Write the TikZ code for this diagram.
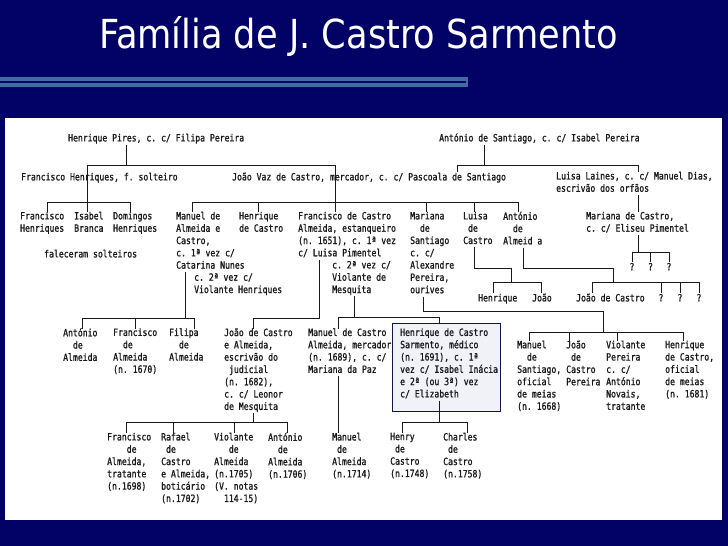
\documentclass[tikz,border=0pt]{standalone}
\usepackage{fontspec}
\newfontfamily\twfont[FakeStretch=0.812,FakeBold=1.1]{DejaVu Sans Mono}
\newfontfamily\ttlfont[FakeStretch=0.88]{DejaVu Sans}
\newlength\cw
\setlength\cw{4.889pt}
\newcommand\pd[1]{\hspace*{#1\cw}}
\definecolor{navybg}{RGB}{2,2,102}
\definecolor{barblue}{RGB}{62,108,165}
\definecolor{ink}{RGB}{25,25,25}
\definecolor{boxfill}{RGB}{240,242,248}
\definecolor{boxline}{RGB}{20,20,70}
\begin{document}
\frenchspacing
\begin{tikzpicture}[x=1pt,y=-1pt,
  tx/.style={anchor=north west,inner sep=0pt,align=left,text=ink,
    font=\twfont\fontsize{10}{12.3}\selectfont,execute at begin node=\strut},
  qm/.style={tx,anchor=north},
  ln/.style={draw=ink,line width=0.9pt,line cap=rect},
  boxst/.style={draw=boxline,fill=boxfill,line width=0.8pt,inner sep=0pt,
    anchor=north west,minimum width=108pt,minimum height=88pt}]
\useasboundingbox (0,0) rectangle (728,546);
\fill[navybg] (0,0) rectangle (728,546);
% title and bar
\node[anchor=base,inner sep=0pt,text=white,font=\ttlfont\fontsize{40}{48}\selectfont] (title) at (358.5,48) {Família de J. Castro Sarmento};
\fill[barblue] (0,77) rectangle (468,87);
\draw[navybg,line width=1.4pt] (0,82) -- (466,82);
% panel
\fill[white] (5,118) rectangle (722,520);
% highlighted box
\node[boxst] (box) at (392,323) {};

% ---------- text ----------
\node[tx] (hp) at (68,132.6) {Henrique Pires, c. c/ Filipa Pereira};
\node[tx] (as) at (439,132.6) {António de Santiago, c. c/ Isabel Pereira};
\node[tx] (fh) at (21,171.6) {Francisco Henriques, f. solteiro};
\node[tx] (jv) at (232,171.6) {João Vaz de Castro, mercador, c. c/ Pascoala de Santiago};
\node[tx] (ll) at (556,171.6) {Luisa Laines, c. c/ Manuel Dias,\\escrivão dos orfãos};

\node[tx] (fh2) at (20,211.6) {Francisco\\Henriques};
\node[tx] (ib) at (74,211.6) {Isabel\\Branca};
\node[tx] (dh) at (113,211.6) {Domingos\\Henriques};
\node[tx] (fs) at (44,248.6) {faleceram solteiros};
\node[tx] (ma) at (176,211.6) {Manuel de\\Almeida e\\Castro,\\c. 1ª vez c/\\Catarina Nunes};
\node[tx] (ma2) at (194,273.1) {c. 2ª vez c/\\Violante Henriques};
\node[tx] (hc) at (239,211.6) {Henrique\\de Castro};
\node[tx] (fc) at (298,211.6) {Francisco de Castro\\Almeida, estanqueiro\\(n. 1651), c. 1ª vez\\c/ Luisa Pimentel};
\node[tx] (fc2) at (332,260.8) {c. 2ª vez c/\\Violante de\\Mesquita};
\node[tx] (msa) at (410,211.6) {Mariana\\\pd{2}de\\Santiago\\c. c/\\Alexandre\\Pereira,\\ourives};
\node[tx] (lc) at (463,211.6) {Luisa\\\pd{1}de\\Castro};
\node[tx] (aa) at (503,211.6) {António\\\pd{2}de\\Almeid a};
\node[tx] (mc) at (586,211.6) {Mariana de Castro,\\c. c/ Eliseu Pimentel};
\node[qm] (q1) at (632,261.6) {?};
\node[qm] (q2) at (650.5,261.6) {?};
\node[qm] (q3) at (669,261.6) {?};

\node[tx] (hen) at (478,292.6) {Henrique};
\node[tx] (jo) at (532,292.6) {João};
\node[tx] (jdc) at (576,292.6) {João de Castro};
\node[qm] (q4) at (661,292.6) {?};
\node[qm] (q5) at (680,292.6) {?};
\node[qm] (q6) at (699,292.6) {?};

\node[tx] (ada) at (63,328.1) {António\\\pd{2}de\\Almeida};
\node[tx] (fda) at (113,328.1) {Francisco\\\pd{2}de\\Almeida\\(n. 1670)};
\node[tx] (fia) at (169,328.1) {Filipa\\\pd{2}de\\Almeida};
\node[tx] (jca) at (224,328.1) {João de Castro\\e Almeida,\\escrivão do\\\pd{1}judicial\\(n. 1682),\\c. c/ Leonor\\de Mesquita};
\node[tx] (mca) at (308,328.1) {Manuel de Castro\\Almeida, mercador\\(n. 1689), c. c/\\Mariana da Paz};
\node[tx] (hcs) at (400,328.1) {Henrique de Castro\\Sarmento, médico\\(n. 1691), c. 1ª\\vez c/ Isabel Inácia\\e 2ª (ou 3ª) vez\\c/ Elizabeth};
\node[tx] (mds) at (517,340.4) {Manuel\\\pd{2}de\\Santiago,\\oficial\\de meias\\(n. 1668)};
\node[tx] (jcp) at (566,340.4) {João\\\pd{1}de\\Castro\\Pereira};
\node[tx] (vp) at (606,340.4) {Violante\\Pereira\\c. c/\\António\\Novais,\\tratante};
\node[tx] (hdc) at (665,340.4) {Henrique\\de Castro,\\oficial\\de meias\\(n. 1681)};

\node[tx] (fa) at (107,432.6) {Francisco\\\pd{4}de\\Almeida,\\tratante\\(n.1698)};
\node[tx] (rca) at (161,432.6) {Rafael\\\pd{1}de\\Castro\\e Almeida,\\boticário\\(n.1702)};
\node[tx] (va) at (214,432.6) {Violante\\\pd{3}de\\Almeida\\(n.1705)\\(V. notas\\\pd{2}114-15)};
\node[tx] (ana) at (268,432.6) {António\\\pd{2}de\\Almeida\\(n.1706)};
\node[tx] (mna) at (332,432.6) {Manuel\\\pd{1}de\\Almeida\\(n.1714)};
\node[tx] (hy) at (390,432.6) {Henry\\\pd{1}de\\Castro\\(n.1748)};
\node[tx] (ch) at (443,432.6) {Charles\\\pd{1}de\\Castro\\(n.1758)};

% ---------- connectors ----------
% Henrique Pires
\draw[ln] (126,0 |- hp.south) -- (126,165);
\draw[ln] (87,165) -- (335,165);
\draw[ln] (87,165) -- (87,0 |- ib.north);
\draw[ln] (335,165) -- (335,0 |- fc.north);
% Francisco Henriques
\draw[ln] (47,202) -- (130,202);
\draw[ln] (47,202) -- (47,0 |- fh2.north);
\draw[ln] (130,202) -- (130,0 |- dh.north);
% Antonio de Santiago
\draw[ln] (484,0 |- as.south) -- (484,165);
\draw[ln] (457,165) -- (638,165);
\draw[ln] (457,165) -- (457,0 |- jv.north);
\draw[ln] (638,165) -- (638,0 |- ll.north);
\draw[ln] (638,0 |- ll.south) -- (638,0 |- mc.north);
% Joao Vaz children
\draw[ln] (192,202) -- (518,202);
\draw[ln] (192,202) -- (192,0 |- ma.north);
\draw[ln] (258,202) -- (258,0 |- hc.north);
\draw[ln] (426,202) -- (426,0 |- msa.north);
\draw[ln] (474,202) -- (474,0 |- lc.north);
\draw[ln] (518,202) -- (518,0 |- aa.north);
% Mariana de Castro
\draw[ln] (638,0 |- mc.south) -- (638,252);
\draw[ln] (632,252) -- (669,252);
\draw[ln] (632,252) -- (q1.north);
\draw[ln] (650.5,252) -- (q2.north);
\draw[ln] (669,252) -- (q3.north);
% Luisa de Castro
\draw[ln] (474,0 |- lc.south) |- (511,268) -- (511,282);
\draw[ln] (493,282) -- (541,282);
\draw[ln] (493,282) -- (493,0 |- hen.north);
\draw[ln] (541,282) -- (541,0 |- jo.north);
% Antonio de Almeida
\draw[ln] (523,0 |- aa.south) |- (613,268) -- (613,282);
\draw[ln] (592,282) -- (699,282);
\draw[ln] (592,282) -- (592,0 |- jdc.north);
\draw[ln] (661,282) -- (q4.north);
\draw[ln] (680,282) -- (q5.north);
\draw[ln] (699,282) -- (q6.north);
% Manuel de Almeida e Castro
\draw[ln] (185,0 |- ma.south) -- (185,318);
\draw[ln] (82,318) -- (194,318);
\draw[ln] (82,318) -- (82,0 |- ada.north);
\draw[ln] (135,318) -- (135,0 |- fda.north);
\draw[ln] (194,318) -- (194,0 |- fia.north);
% Francisco de Castro, 1st marriage
\draw[ln] (319,0 |- fc.south) -- (319,318) -- (253,318) -- (253,0 |- jca.north);
% Francisco de Castro, 2nd marriage
\draw[ln] (354,0 |- fc2.south) -- (354,317);
\draw[ln] (338,317) -- (439,317);
\draw[ln] (338,317) -- (338,0 |- mca.north);
\draw[ln] (439,317) -- (439,0 |- box.north);
% Mariana de Santiago
\draw[ln] (423,0 |- msa.south) |- (603,311) -- (603,332);
\draw[ln] (529,332) -- (683,332);
\draw[ln] (529,332) -- (529,0 |- mds.north);
\draw[ln] (569,332) -- (569,0 |- jcp.north);
\draw[ln] (617,332) -- (617,0 |- vp.north);
\draw[ln] (683,332) -- (683,0 |- hdc.north);
% Joao de Castro e Almeida
\draw[ln] (253,0 |- jca.south) -- (253,422);
\draw[ln] (126,422) -- (287,422);
\draw[ln] (126,422) -- (126,0 |- fa.north);
\draw[ln] (173,422) -- (173,0 |- rca.north);
\draw[ln] (234,422) -- (234,0 |- va.north);
\draw[ln] (287,422) -- (287,0 |- ana.north);
% Manuel de Castro Almeida
\draw[ln] (338,0 |- mca.south) -- (338,0 |- mna.north);
% Henrique de Castro Sarmento
\draw[ln] (439,0 |- hcs.south) -- (439,422);
\draw[ln] (402,422) -- (467,422);
\draw[ln] (402,422) -- (402,0 |- hy.north);
\draw[ln] (467,422) -- (467,0 |- ch.north);
\end{tikzpicture}
\end{document}
